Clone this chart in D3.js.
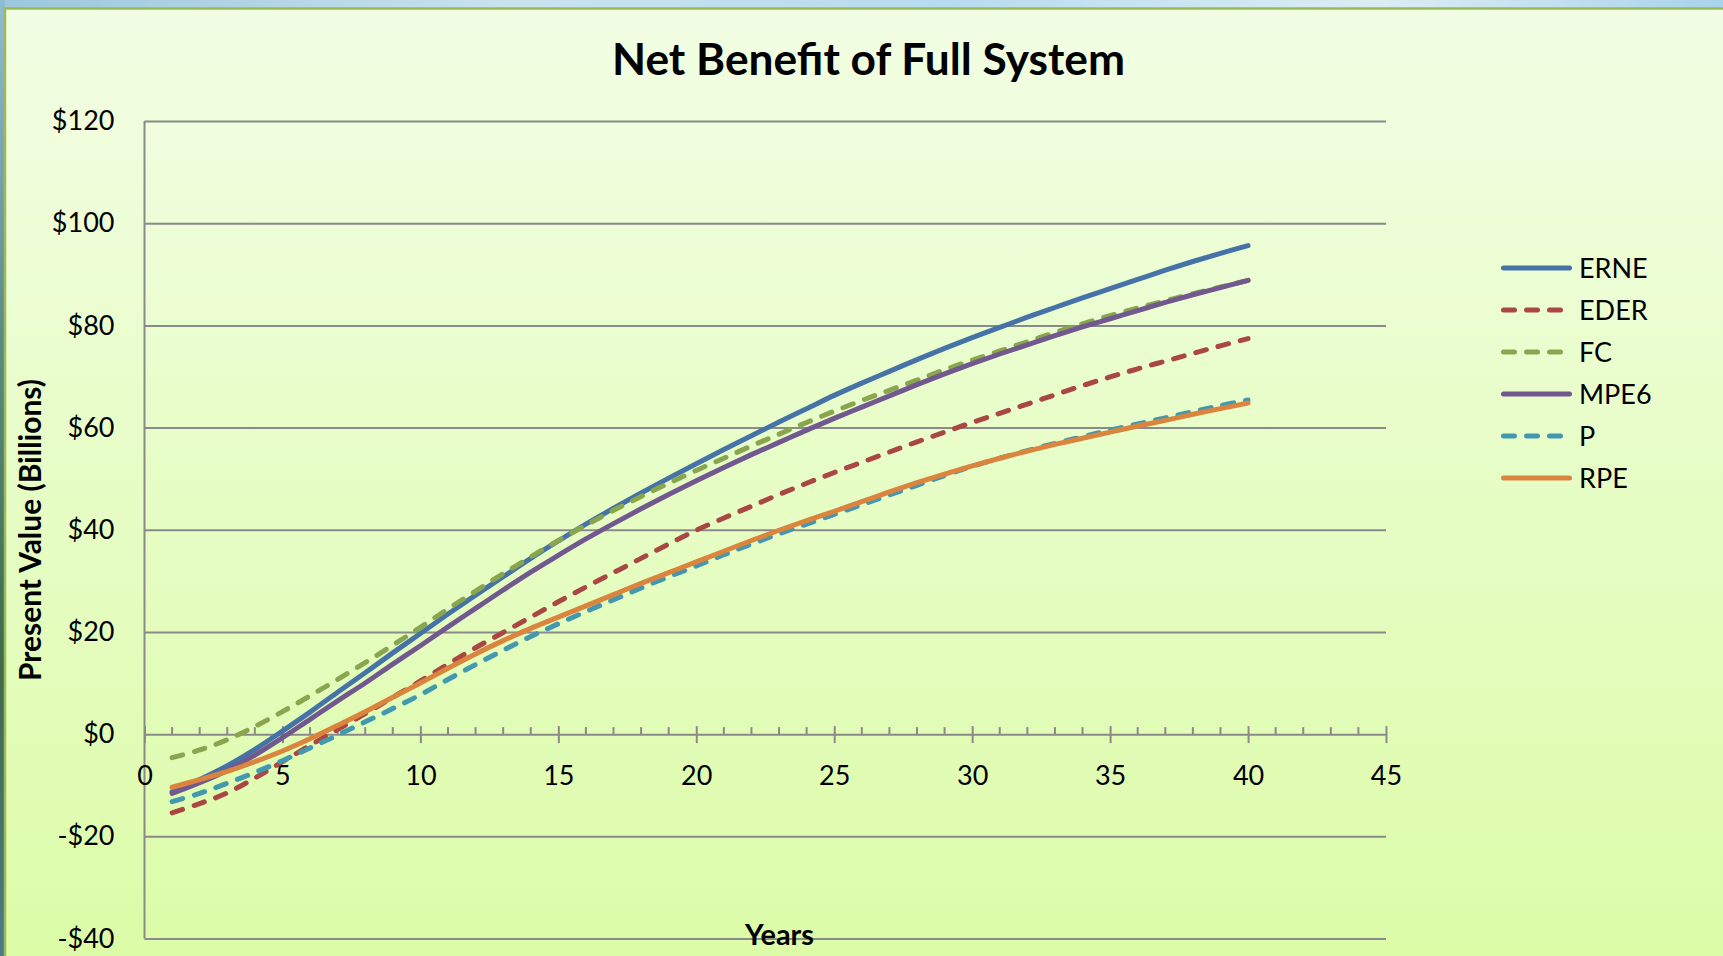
<!DOCTYPE html>
<html>
<head>
<meta charset="utf-8">
<script src="https://cdn.jsdelivr.net/npm/d3@7"></script>
<style>
  html, body { margin: 0; padding: 0; background: #ffffff; }
  svg { display: block; }
  text { font-family: Lato, "Noto Sans", sans-serif; fill: #000; }
</style>
</head>
<body>
<svg id="chart" width="1723" height="956"></svg>
<script>
// Years on the horizontal axis (one point per year)
const years = d3.range(1, 41);

// Present value of net benefit, $ billions, per scenario
const erne = [-11.3, -8.9, -6.2, -3.0, 0.6, 4.3, 8.2, 12.0, 15.9, 19.7,
  23.5, 27.2, 30.8, 34.4, 37.8, 41.1, 44.2, 47.2, 50.1, 52.9,
  55.7, 58.4, 61.1, 63.7, 66.3, 68.7, 71.0, 73.3, 75.5, 77.6,
  79.6, 81.6, 83.5, 85.4, 87.2, 89.0, 90.8, 92.5, 94.1, 95.6];
const eder = [-15.4, -13.6, -11.5, -8.6, -5.4, -2.2, 0.9, 4.0, 7.2, 10.4,
  13.7, 16.9, 19.9, 22.9, 25.9, 28.8, 31.6, 34.4, 37.2, 39.9,
  42.3, 44.6, 46.9, 49.1, 51.2, 53.2, 55.2, 57.2, 59.1, 61.0,
  62.8, 64.6, 66.4, 68.2, 69.9, 71.5, 73.0, 74.5, 76.0, 77.4];
const fc = [-4.6, -3.1, -1.1, 1.5, 4.4, 7.5, 10.7, 14.0, 17.4, 20.9,
  24.5, 28.0, 31.4, 34.7, 37.9, 40.9, 43.8, 46.5, 49.1, 51.6,
  54.0, 56.4, 58.7, 61.0, 63.2, 65.3, 67.3, 69.3, 71.3, 73.2,
  75.0, 76.8, 78.6, 80.3, 81.9, 83.4, 84.8, 86.2, 87.5, 88.8];
const mpe6 = [-11.6, -9.5, -7.1, -4.1, -0.7, 2.9, 6.5, 10.0, 13.7, 17.3,
  21.0, 24.6, 28.2, 31.7, 35.0, 38.2, 41.2, 44.1, 46.9, 49.6,
  52.2, 54.7, 57.1, 59.5, 61.8, 64.0, 66.2, 68.4, 70.5, 72.5,
  74.4, 76.2, 78.0, 79.7, 81.3, 82.9, 84.5, 86.0, 87.4, 88.8];
const p = [-13.2, -11.6, -9.6, -7.5, -5.2, -2.7, -0.2, 2.4, 5.0, 7.7,
  10.7, 13.6, 16.4, 19.1, 21.6, 24.0, 26.3, 28.6, 30.8, 32.9,
  35.1, 37.2, 39.2, 41.1, 43.0, 44.9, 46.8, 48.7, 50.6, 52.4,
  54.0, 55.5, 56.9, 58.2, 59.5, 60.7, 61.9, 63.1, 64.3, 65.4];
const rpe = [-10.4, -8.9, -7.3, -5.4, -3.3, -0.9, 1.7, 4.4, 7.2, 10.0,
  12.9, 15.7, 18.3, 20.7, 22.9, 25.1, 27.3, 29.5, 31.6, 33.7,
  35.8, 37.9, 39.9, 41.8, 43.6, 45.5, 47.4, 49.2, 50.9, 52.5,
  54.0, 55.4, 56.7, 57.9, 59.1, 60.3, 61.4, 62.6, 63.7, 64.8];

const seriesNames = ["ERNE", "EDER", "FC", "MPE6", "P", "RPE"];
const seriesValues = [erne, eder, fc, mpe6, p, rpe];
const seriesColors = ["#4572A7", "#AA4643", "#89A54E", "#71588F", "#4198AF", "#DB843D"];
const seriesDashed = [false, true, true, false, true, false];

const xTicks = d3.range(0, 46, 5);
const yTicks = d3.range(-40, 121, 20);

const titleText = "Net Benefit of Full System";
const yTitleText = "Present Value (Billions)";
const xTitleText = "Years";

const svg = d3.select("#chart");
const W = 1723, H = 956;

// ---- backdrop: slide picture strip, green frame, gradient panel ----
const defs = svg.append("defs");
const panelGrad = defs.append("linearGradient").attr("id", "panelGrad")
  .attr("x1", 0).attr("y1", 0).attr("x2", 0).attr("y2", 1);
panelGrad.append("stop").attr("offset", "0%").attr("stop-color", "#f2fee4");
panelGrad.append("stop").attr("offset", "100%").attr("stop-color", "#dcfca8");
const skyGrad = defs.append("linearGradient").attr("id", "skyGrad")
  .attr("x1", 0).attr("y1", 0).attr("x2", 1).attr("y2", 0);
skyGrad.append("stop").attr("offset", "0%").attr("stop-color", "#9cc7dc");
skyGrad.append("stop").attr("offset", "30%").attr("stop-color", "#c9e3ee");
skyGrad.append("stop").attr("offset", "55%").attr("stop-color", "#b7dcef");
skyGrad.append("stop").attr("offset", "80%").attr("stop-color", "#dcedf3");
skyGrad.append("stop").attr("offset", "100%").attr("stop-color", "#a9d3ea");
const leftGrad = defs.append("linearGradient").attr("id", "leftGrad")
  .attr("x1", 0).attr("y1", 0).attr("x2", 0).attr("y2", 1);
leftGrad.append("stop").attr("offset", "0%").attr("stop-color", "#8fbcd4");
leftGrad.append("stop").attr("offset", "35%").attr("stop-color", "#5d8a86");
leftGrad.append("stop").attr("offset", "70%").attr("stop-color", "#3f6a4c");
leftGrad.append("stop").attr("offset", "100%").attr("stop-color", "#4d7a88");

svg.append("rect").attr("x", 0).attr("y", 0).attr("width", W).attr("height", H).attr("fill", "url(#skyGrad)");
svg.append("rect").attr("x", 0).attr("y", 0).attr("width", 5).attr("height", H).attr("fill", "url(#leftGrad)");
svg.append("rect").attr("x", 5).attr("y", 8).attr("width", W - 5).attr("height", H - 8).attr("fill", "url(#panelGrad)");
svg.append("path").attr("d", `M5,${H} V8.5 H${W}`)
  .attr("fill", "none").attr("stroke", "#9bbb59").attr("stroke-width", 2.5);

// ---- scales ----
const x = d3.scaleLinear().domain([0, 45]).range([144.5, 1386]);
const y = d3.scaleLinear().domain([-40, 120]).range([938.5, 121]);
const gridColor = "#8a8a8a";

// fit a text element's font size so its rendered width equals target
function fitWidth(sel, target) {
  const fs = parseFloat(sel.attr("font-size"));
  const w = sel.node().getComputedTextLength();
  if (w > 0) sel.attr("font-size", (fs * target / w).toFixed(2));
}

// ---- y axis with horizontal gridlines ----
const fmtMoney = v => (v < 0 ? "-$" : "$") + Math.abs(v);
const yAxis = svg.append("g")
  .attr("transform", `translate(${x(0)},0)`)
  .call(d3.axisLeft(y).tickValues(yTicks).tickFormat(fmtMoney)
    .tickSize(-(x(45) - x(0))).tickPadding(30));
yAxis.select(".domain").remove();
yAxis.selectAll(".tick line").attr("stroke", gridColor).attr("stroke-width", 2);
yAxis.selectAll(".tick text")
  .attr("font-family", "Lato, sans-serif").attr("font-size", 27).attr("fill", "#000");

// vertical axis line
svg.append("line")
  .attr("x1", x(0)).attr("x2", x(0)).attr("y1", y(120)).attr("y2", y(-40))
  .attr("stroke", gridColor).attr("stroke-width", 2);

// ---- x axis sits on the $0 line ----
const xAxis = svg.append("g")
  .attr("transform", `translate(0,${y(0)})`)
  .call(d3.axisBottom(x).tickValues(xTicks).tickFormat(d3.format("d"))
    .tickSize(0).tickPadding(32));
xAxis.select(".domain").remove();
xAxis.selectAll(".tick text")
  .attr("font-family", "Lato, sans-serif").attr("font-size", 27).attr("fill", "#000");
// major ticks cross the line
xAxis.selectAll(".tick").append("line")
  .attr("y1", -8).attr("y2", 9).attr("stroke", gridColor).attr("stroke-width", 2);
// minor ticks every year, above the line
const minorYears = d3.range(1, 45).filter(v => v % 5 !== 0);
svg.append("g").selectAll("line").data(minorYears).join("line")
  .attr("x1", d => x(d)).attr("x2", d => x(d))
  .attr("y1", y(0) - 7).attr("y2", y(0))
  .attr("stroke", gridColor).attr("stroke-width", 2);

// ---- series lines ----
const line = d3.line()
  .x((d, i) => x(years[i]))
  .y(d => y(d))
  .curve(d3.curveCatmullRom.alpha(0.5));

const seriesG = svg.append("g");
seriesNames.forEach((name, k) => {
  seriesG.append("path")
    .datum(seriesValues[k])
    .attr("d", line)
    .attr("fill", "none")
    .attr("stroke", seriesColors[k])
    .attr("stroke-width", 5)
    .attr("stroke-linecap", "round")
    .attr("stroke-linejoin", "round")
    .attr("stroke-dasharray", seriesDashed[k] ? "11 12" : null);
});

// ---- legend ----
const legend = svg.append("g").attr("transform", "translate(1501,268)");
const items = legend.selectAll("g").data(seriesNames).join("g")
  .attr("transform", (d, i) => `translate(0,${i * 42})`);
items.append("line")
  .attr("x1", 2.5).attr("x2", 68.5).attr("y1", 0).attr("y2", 0)
  .attr("stroke", (d, i) => seriesColors[i])
  .attr("stroke-width", 5)
  .attr("stroke-linecap", "round")
  .attr("stroke-dasharray", (d, i) => seriesDashed[i] ? "11 12" : null);
items.append("text")
  .attr("x", 78).attr("y", 0).attr("dy", "0.36em")
  .attr("font-size", 27)
  .text(d => d);

// ---- titles ----
const title = svg.append("text")
  .attr("x", 868.5).attr("y", 75)
  .attr("text-anchor", "middle")
  .attr("font-weight", 700).attr("font-size", 42)
  .text(titleText);
fitWidth(title, 513);

const yTitle = svg.append("text")
  .attr("transform", "translate(41,530) rotate(-90)")
  .attr("text-anchor", "middle")
  .attr("font-weight", 700).attr("font-size", 26)
  .text(yTitleText);
fitWidth(yTitle, 302);

const xTitle = svg.append("text")
  .attr("x", 779.5).attr("y", 945)
  .attr("text-anchor", "middle")
  .attr("font-weight", 700).attr("font-size", 26)
  .text(xTitleText);
fitWidth(xTitle, 69);
</script>
</body>
</html>
